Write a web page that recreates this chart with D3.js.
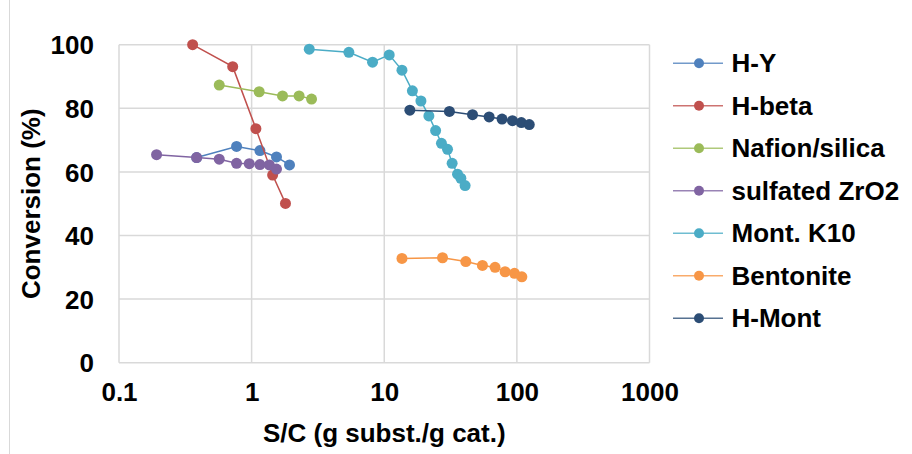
<!DOCTYPE html>
<html>
<head>
<meta charset="utf-8">
<script src="https://cdn.jsdelivr.net/npm/d3@7"></script>
<style>
  html, body { margin: 0; padding: 0; background: #ffffff; }
  svg { display: block; }
  text { font-family: "Liberation Sans", Arial, sans-serif; font-weight: bold; fill: #000; }
</style>
</head>
<body>
<svg id="chart" width="912" height="454"></svg>
<script>
// Catalyst series: substrate/catalyst ratio (log x) vs. conversion (%)
const seriesNames = ["H-Y", "H-beta", "Nafion/silica", "sulfated ZrO2", "Mont. K10", "Bentonite", "H-Mont"];
const seriesColors = ["#4F81BD", "#C0504D", "#9BBB59", "#8064A2", "#4BACC6", "#F79646", "#2C4D75"];

const hyX = [0.385, 0.77, 1.155, 1.54, 1.93];
const hyY = [64.5, 68.0, 66.7, 64.7, 62.2];
const hbetaX = [0.359, 0.72, 1.077, 1.44, 1.80];
const hbetaY = [100, 93.1, 73.6, 59.0, 50.1];
const nafionX = [0.57, 1.14, 1.71, 2.28, 2.83];
const nafionY = [87.3, 85.2, 83.9, 83.9, 82.9];
const szrX = [0.192, 0.385, 0.57, 0.77, 0.96, 1.155, 1.36, 1.54];
const szrY = [65.4, 64.5, 64.0, 62.7, 62.6, 62.3, 62.2, 60.9];
const k10X = [2.72, 5.41, 8.16, 10.9, 13.6, 16.3, 18.9, 21.7, 24.4, 27.0, 30.0, 32.5, 35.7, 37.8, 40.7];
const k10Y = [98.6, 97.6, 94.5, 96.8, 92.0, 85.5, 82.3, 77.6, 73.0, 69.0, 67.1, 62.7, 59.3, 58.0, 55.7];
const bentX = [13.6, 27.5, 41.2, 55.0, 68.5, 81.5, 95.9, 109];
const bentY = [32.8, 33.0, 31.8, 30.6, 30.0, 28.6, 28.1, 27.0];
const hmontX = [15.6, 31.0, 46.3, 61.8, 77.3, 92.6, 108, 124];
const hmontY = [79.4, 79.0, 78.0, 77.3, 76.6, 76.1, 75.5, 74.9];

const xTicks = [0.1, 1, 10, 100, 1000];
const xTickLabels = ["0.1", "1", "10", "100", "1000"];
const yTicks = [0, 20, 40, 60, 80, 100];

const seriesX = [hyX, hbetaX, nafionX, szrX, k10X, bentX, hmontX];
const seriesY = [hyY, hbetaY, nafionY, szrY, k10Y, bentY, hmontY];
const series = seriesNames.map((name, i) => ({
  name, color: seriesColors[i],
  points: seriesX[i].map((x, j) => ({ x, y: seriesY[i][j] }))
}));

const svg = d3.select("#chart");
const plot = { left: 119, right: 649.5, top: 44.7, bottom: 362.7 };

const x = d3.scaleLog().domain([0.1, 1000]).range([plot.left, plot.right]);
const y = d3.scaleLinear().domain([0, 100]).range([plot.bottom, plot.top]);

// chart frame edge on the left
svg.append("line")
  .attr("x1", 9.5).attr("x2", 9.5).attr("y1", 0).attr("y2", 454)
  .attr("stroke", "#d9d9d9").attr("stroke-width", 1);

// gridlines
const grid = svg.append("g");
grid.selectAll("line.h").data(yTicks).join("line")
  .attr("class", "h")
  .attr("x1", plot.left).attr("x2", plot.right)
  .attr("y1", d => y(d)).attr("y2", d => y(d))
  .attr("stroke", "#d9d9d9").attr("stroke-width", 1.5);
grid.selectAll("line.v").data(xTicks).join("line")
  .attr("class", "v")
  .attr("x1", d => x(d)).attr("x2", d => x(d))
  .attr("y1", plot.top).attr("y2", plot.bottom)
  .attr("stroke", "#d9d9d9").attr("stroke-width", 1.5);

// axes (labels only; grid draws the lines)
const xAxis = d3.axisBottom(x).tickValues(xTicks)
  .tickFormat((d, i) => xTickLabels[i]).tickSize(0).tickPadding(0);
const gx = svg.append("g").attr("transform", `translate(0,${plot.bottom})`).call(xAxis);
gx.select(".domain").remove();
gx.selectAll("text").attr("font-size", 26).attr("font-family", null)
  .attr("dy", null).attr("y", 38.5).attr("fill", "#000");

const yAxis = d3.axisLeft(y).tickValues(yTicks).tickSize(0).tickPadding(0);
const gy = svg.append("g").attr("transform", `translate(${plot.left},0)`).call(yAxis);
gy.select(".domain").remove();
gy.selectAll("text").attr("font-size", 26).attr("font-family", null)
  .attr("x", -25).attr("dy", "0.35em").attr("fill", "#000");

// axis titles
svg.append("text")
  .attr("x", (plot.left + plot.right) / 2).attr("y", 442)
  .attr("text-anchor", "middle").attr("font-size", 26)
  .text("S/C (g subst./g cat.)");
svg.append("text")
  .attr("transform", `translate(40,${(plot.top + plot.bottom) / 2}) rotate(-90)`)
  .attr("text-anchor", "middle").attr("font-size", 26)
  .text("Conversion (%)");

// series lines and markers
const line = d3.line().x(d => x(d.x)).y(d => y(d.y));
const gs = svg.append("g").selectAll("g").data(series).join("g");
gs.append("path")
  .attr("d", d => line(d.points))
  .attr("fill", "none").attr("stroke", d => d.color).attr("stroke-width", 1.5);
gs.each(function (s) {
  d3.select(this).selectAll("circle").data(s.points).join("circle")
    .attr("cx", d => x(d.x)).attr("cy", d => y(d.y)).attr("r", 5.5)
    .attr("fill", s.color);
});

// legend
const legend = svg.append("g").attr("transform", "translate(673,63.3)");
const items = legend.selectAll("g").data(series).join("g")
  .attr("transform", (d, i) => `translate(0,${i * 42.5})`);
items.append("line")
  .attr("x1", 0).attr("x2", 50).attr("y1", 0).attr("y2", 0)
  .attr("stroke", d => d.color).attr("stroke-width", 1.5).attr("stroke-opacity", 0.8);
items.append("circle").attr("cx", 26).attr("cy", 0).attr("r", 5).attr("fill", d => d.color);
items.append("text")
  .attr("x", 58.5).attr("y", 0).attr("dy", "0.35em").attr("font-size", 26)
  .text(d => d.name);
</script>
</body>
</html>
